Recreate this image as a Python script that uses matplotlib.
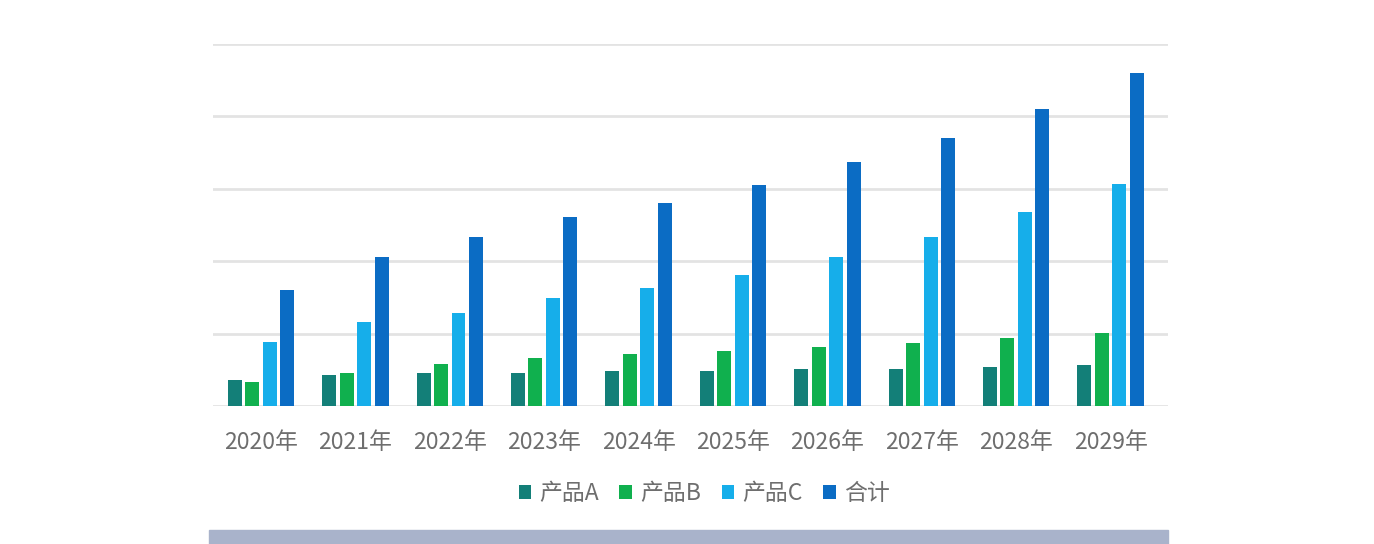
import matplotlib.pyplot as plt
import matplotlib.patches as mpatches
import numpy as np

plt.rcParams['font.family'] = ['Noto Sans CJK SC', 'DejaVu Sans']

years = ['2020年', '2021年', '2022年', '2023年', '2024年',
         '2025年', '2026年', '2027年', '2028年', '2029年']
product_a = [72, 86, 91, 91, 97, 97, 102, 102, 108, 113]
product_b = [66, 91, 116, 133, 144, 152, 163, 174, 188, 202]
product_c = [177, 232, 257, 298, 326, 362, 412, 467, 536, 613]
total = [320, 412, 467, 522, 561, 611, 674, 740, 820, 920]

series_names = ['产品A', '产品B', '产品C', '合计']
colors = ['#137f78', '#10b04e', '#16aeea', '#0b6cc4']

fig = plt.figure(figsize=(13.74, 5.44), dpi=100)
ax = fig.add_axes([213 / 1374, 1 - 406 / 544, (1168 - 213) / 1374, (406 - 44) / 544])

x = np.arange(len(years))
bar_w = 0.148
pitch = 0.185
offsets = [-1.5 * pitch, -0.5 * pitch, 0.5 * pitch, 1.5 * pitch]
handles = []
for vals, off, col, name in zip([product_a, product_b, product_c, total], offsets, colors, series_names):
    b = ax.bar(x + off, vals, width=bar_w, color=col, label=name, zorder=3)
    handles.append(b)

ax.set_xlim(-0.508, 9.608)
ax.set_ylim(0, 1000)
ax.set_yticks([0, 200, 400, 600, 800, 1000])
ax.yaxis.grid(True, color='#e3e3e3', linewidth=2)
ax.set_yticklabels([])
ax.tick_params(axis='y', length=0)
ax.set_xticks(x)
ax.set_xticklabels(years, fontsize=16.5, color='#6e6e6e')
ax.tick_params(axis='x', length=0, pad=18)
for s in ax.spines.values():
    s.set_visible(False)

fig.legend(handles=handles, labels=series_names, loc='center',
           bbox_to_anchor=(704 / 1374, 1 - 494 / 544), ncol=4, frameon=False,
           fontsize=16.5, labelcolor='#6e6e6e', handlelength=0.55, handleheight=0.55,
           handletextpad=0.35, columnspacing=0.9)

# grey-blue strip at the bottom of the screenshot
fig.patches.append(mpatches.Rectangle((209 / 1374, 0), (1168 - 209) / 1374, 14 / 544,
                                      transform=fig.transFigure, color='#a9b3cb', zorder=0))

fig.savefig('out.png', dpi=100)
